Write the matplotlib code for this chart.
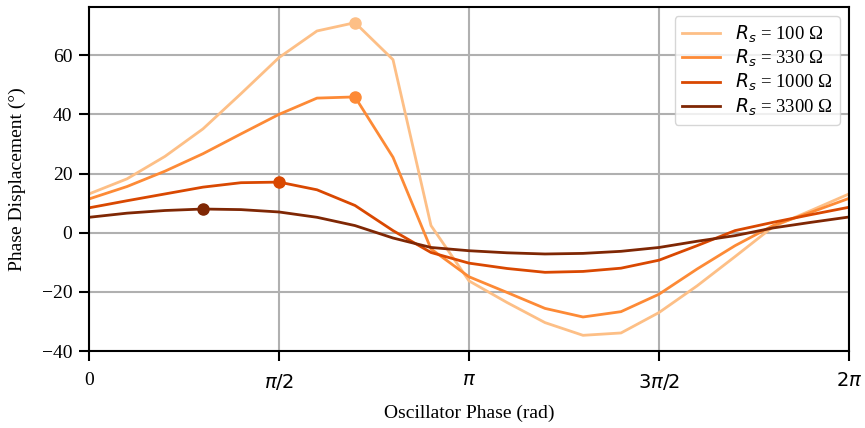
import numpy as np
import matplotlib
matplotlib.use("Agg")
import matplotlib.pyplot as plt

plt.rcParams['font.family'] = ['Liberation Serif', 'DejaVu Serif']
plt.rcParams['mathtext.fontset'] = 'dejavusans'

labels = [r'$R_s$ = 100 Ω', r'$R_s$ = 330 Ω', r'$R_s$ = 1000 Ω', r'$R_s$ = 3300 Ω']
colors = ['#fdbf86', '#fd8a36', '#d94801', '#7f2704']

phase_steps = np.arange(21)  # multiples of pi/10
s100 = [13.1, 18.2, 25.8, 35.1, 47.0, 59.2, 68.2, 71.0, 58.5, 2.4, -16.3, -23.6, -30.4, -34.7, -33.9, -27.0, -18.0, -8.1, 2.0, 7.5, 13.1]
s330 = [11.4, 15.6, 20.8, 26.7, 33.4, 40.0, 45.5, 45.9, 25.5, -5.5, -14.9, -20.2, -25.6, -28.5, -26.7, -20.8, -12.3, -4.4, 2.4, 6.9, 11.6]
s1000 = [8.4, 10.8, 13.1, 15.4, 16.9, 17.1, 14.5, 9.2, 0.7, -6.7, -10.3, -12.1, -13.4, -13.1, -12.0, -9.3, -4.4, 0.7, 3.5, 6.1, 8.6]
s3300 = [5.2, 6.6, 7.5, 8.0, 7.8, 7.0, 5.2, 2.4, -1.8, -5.0, -6.1, -6.8, -7.2, -7.0, -6.3, -5.0, -2.9, -1.0, 1.6, 3.5, 5.3]
series = [s100, s330, s1000, s3300]

xticks_labels = ['0', r'$\pi/2$', r'$\pi$', r'$3\pi/2$', r'$2\pi$']

fig = plt.figure(figsize=(8.65, 4.28), dpi=100)
ax = fig.add_axes([89/865, 1-351/428, (849-89)/865, (351-7)/428])

x = phase_steps * np.pi / 10
for s, c, lab in zip(series, colors, labels):
    s = np.array(s)
    ax.plot(x, s, color=c, lw=2, label=lab)
    i = int(np.argmax(s))
    ax.plot(x[i], s[i], 'o', color=c, ms=8)

ax.set_xlim(0, 2*np.pi)
ax.set_ylim(-40, 76.3)
ax.set_xticks(np.arange(5) * np.pi / 2)
ax.set_xticklabels(xticks_labels)
ax.set_yticks([-40, -20, 0, 20, 40, 60])
ax.set_yticklabels(['−40', '−20', '0', '20', '40', '60'])
ax.grid(True, color='#b0b0b0', lw=1.5)
ax.set_axisbelow(True)
for sp in ax.spines.values():
    sp.set_linewidth(1.5)
ax.tick_params(axis='both', labelsize=14, length=7, width=1.5)
ax.tick_params(axis='y', pad=5)
ax.tick_params(axis='x', pad=8)
ax.set_xlabel('Oscillator Phase (rad)', fontsize=14, labelpad=9)
ax.set_ylabel('Phase Displacement (°)', fontsize=14, labelpad=11)
leg = ax.legend(loc='upper right', fontsize=13.5, handlelength=2.0, labelspacing=0.15,
                borderaxespad=0.5, framealpha=0.8, edgecolor='#cccccc')
fig.savefig('out.png', dpi=100)
